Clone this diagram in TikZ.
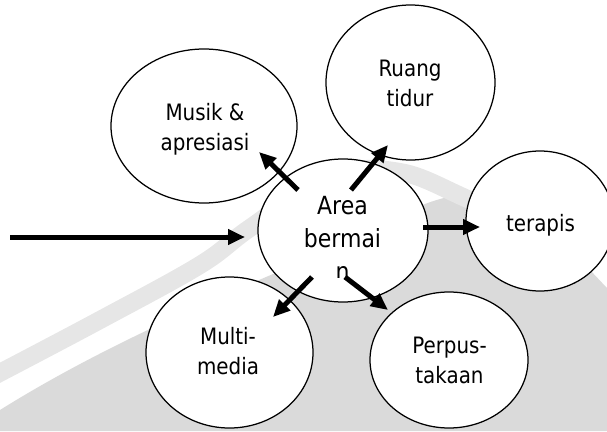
\documentclass[tikz,border=0pt]{standalone}
\usepackage{fontspec}
\setmainfont{DejaVu Sans}[FakeStretch=0.88]
\usetikzlibrary{arrows.meta,shapes.geometric,calc}

\definecolor{wmgrey}{HTML}{DADADA}
\definecolor{wmstripe}{HTML}{E6E6E6}

\begin{document}
\begin{tikzpicture}[x=1pt,y=-1pt,
  bubble/.style={ellipse, fill=white, inner sep=0pt, outer sep=0pt},
  rim/.style={line width=1.25pt},
  bubtext/.style={align=center, inner sep=0pt, font=\fontsize{22.6}{30}\selectfont},
  flow/.style={line width=5pt, -{Triangle[length=17pt,width=15pt]}}
]
\useasboundingbox (0,0) rectangle (607,431);

% background swoosh
\fill[wmgrey] (0,410) .. controls (120,335) and (250,285) .. (340,245)
  .. controls (390,222) and (420,200) .. (460,195)
  .. controls (530,200) and (580,260) .. (607,288)
  -- (607,431) -- (0,431) -- cycle;
\draw[wmstripe, line width=18pt] plot[smooth, tension=0.6] coordinates
  {(-10,378) (100,320) (200,265) (250,228) (330,176) (400,172) (470,200) (560,240)};

% bubbles (fill first, outlines afterwards so crossing rims stay visible)
\node[bubble, minimum width=186pt, minimum height=154pt] (musik)   at (204,126)   {};
\node[bubble, minimum width=169pt, minimum height=155pt] (ruang)   at (410.5,82.5) {};
\node[bubble, minimum width=148pt, minimum height=140pt] (terapis) at (540,221)   {};
\node[bubble, minimum width=167pt, minimum height=151pt] (multi)   at (229.5,352.5) {};
\node[bubble, minimum width=158pt, minimum height=136pt] (perpus)  at (449,360)   {};
\node[bubble, minimum width=170pt, minimum height=143pt] (area)    at (343,230.5) {};

\foreach \bub in {musik,ruang,terapis,multi,perpus,area}
  \draw[rim] let \p1=($(\bub.east)-(\bub.center)$), \p2=($(\bub.north)-(\bub.center)$) in
    (\bub.center) ellipse [x radius=\x1, y radius=\y2];

% labels
\node[bubtext] (musikt)   at (205,128.8)   {Musik \&\\apresiasi};
\node[bubtext] (ruangt)   at (410,83.8)    {Ruang\\tidur};
\node[bubtext] (terapist) at (540.5,225)   {terapis};
\node[bubtext] (multit)   at (228,351.4)   {Multi-\\media};
\node[bubtext] (perpust)  at (449.5,360.5) {Perpus-\\takaan};
\begin{scope}
  \clip (0,0) rectangle (607,277);
  \node[bubtext, font=\fontsize{25}{33}\selectfont] (areat) at (342.5,237.9) {Area\\bermai\\n};
\end{scope}

% connectors
\coordinate (entry) at (10,237);
\draw[flow] (entry) -- ($(area)+(-98,6.5)$);
\draw[flow] ($(area)+(-45,-40.5)$) -- ($(musik)+(55,26)$);
\draw[flow] ($(area)+(8,-40.5)$)   -- ($(ruang)+(-22.5,62.5)$);
\draw[flow] ($(area)+(80,-3.5)$)   -- ($(terapis)+(-60,6)$);
\draw[flow] ($(area)+(-31,46.5)$)  -- ($(multi)+(43.5,-35.5)$);
\draw[flow] ($(area)+(2,46.5)$)    -- ($(perpus)+(-61,-50)$);
\end{tikzpicture}
\end{document}
